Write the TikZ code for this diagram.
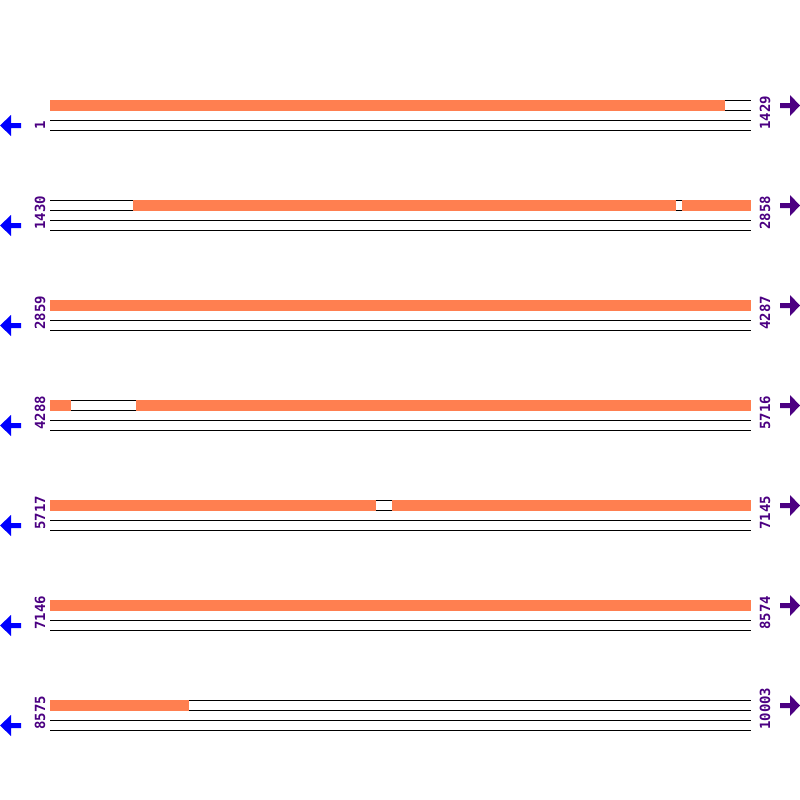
\documentclass[tikz,border=0pt]{standalone}
\usepackage{fontspec}
\newfontfamily\labfont{DejaVu Sans Mono Bold}
\definecolor{bar}{HTML}{FF7F50}
\definecolor{lab}{HTML}{4B0082}
\begin{document}
\begin{tikzpicture}[x=1pt,y=-1pt,
  trackline/.style={black,line width=1pt},
  barfill/.style={fill=bar,draw=none},
  poslabel/.style={rotate=90,anchor=base west,inner sep=0pt,text=lab,font=\labfont\fontsize{14}{14}\selectfont},
  leftarrow/.style={fill=blue,draw=none},
  rightarrow/.style={fill=lab,draw=none}]
\useasboundingbox (0,0) rectangle (800,800);
\foreach \i/\s/\e in {0/1/1429,1/1430/2858,2/2859/4287,3/4288/5716,4/5717/7145,5/7146/8574,6/8575/10003}{
  \pgfmathsetmacro{\yy}{100+100*\i}
  \foreach \d in {0,10,20,30}{
    \draw[trackline] (50,\yy+\d) -- (751,\yy+\d);
  }
  \node[poslabel] (s\i) at (45,\yy+30) {\s};
  \node[poslabel] (e\i) at (770,\yy+30) {\e};
  \fill[leftarrow] (0,\yy+25.5) -- (11,\yy+15) -- (11,\yy+23) -- (21,\yy+23) -- (21,\yy+28) -- (11,\yy+28) -- (11,\yy+36) -- cycle;
  \fill[rightarrow] (800,\yy+5.5) -- (790,\yy-5) -- (790,\yy+3) -- (780,\yy+3) -- (780,\yy+8) -- (790,\yy+8) -- (790,\yy+16) -- cycle;
}
% orange segments
\foreach \i/\a/\b in {0/50/725,1/133/676,1/682/751,2/50/751,3/50/71,3/136/751,4/50/376,4/392/751,5/50/751,6/50/189}{
  \pgfmathsetmacro{\yy}{100+100*\i}
  \fill[barfill] (\a,\yy-0.5) rectangle (\b,\yy+10.5);
}
\end{tikzpicture}
\end{document}
